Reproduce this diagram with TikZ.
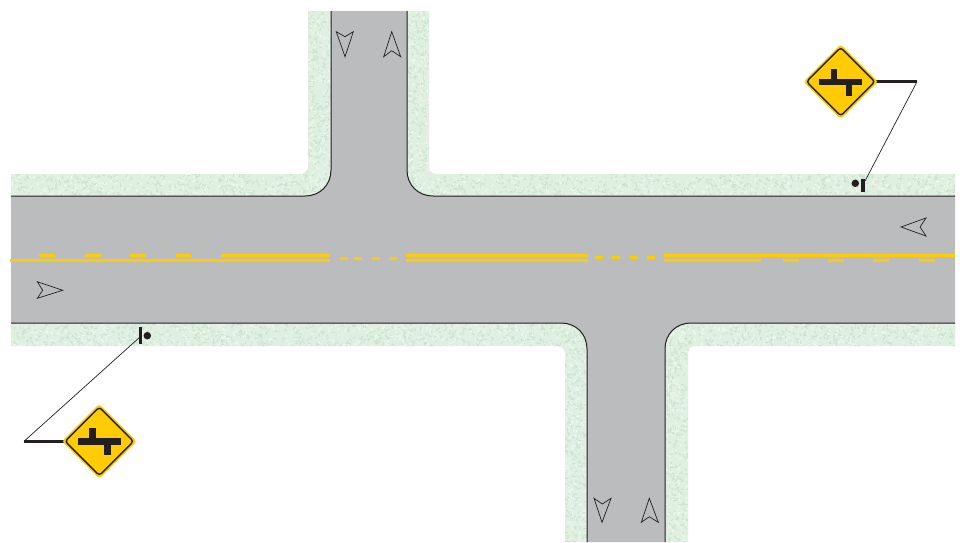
\documentclass[tikz,border=0pt]{standalone}
\usetikzlibrary{shapes.geometric}
\definecolor{roadgray}{HTML}{BBBCBE}
\definecolor{vergegreen}{HTML}{DFF0E0}
\definecolor{specklegreen}{HTML}{CBE3CE}
\definecolor{glintgreen}{HTML}{EFF8EF}
\definecolor{paintyellow}{HTML}{FFCB05}
\definecolor{signblack}{HTML}{231F20}
\tikzset{
  edgeline/.style={draw=signblack, line width=1pt},
  paint/.style={draw=paintyellow, line width=3pt},
  flow/.style={draw=signblack, line width=0.7pt, fill=none, line join=miter},
  signplate/.style={diamond, aspect=1, fill=paintyellow, inner sep=0pt, minimum size=75pt, rounded corners=3pt},
  signring/.style={diamond, aspect=1, draw=signblack, line width=1.4pt, inner sep=0pt, minimum size=69pt, rounded corners=3pt},
  bar/.style={fill=signblack},
  thickarm/.style={draw=signblack, line width=3pt},
  thinarm/.style={draw=signblack, line width=0.7pt},
  post/.style={draw=signblack, line width=3.4pt},
  dot/.style={circle, fill=signblack, inner sep=0pt, minimum size=7.5pt}
}
\begin{document}
\begin{tikzpicture}[x=1pt, y=-1pt]
  \useasboundingbox (0,0) rectangle (960,542);

  % Verges
  \begin{scope}
    \clip (11,174) -- (300,174) .. controls (305,174) and (308,171) .. (308,166) -- (308,11) -- (331,11) -- (331,196) -- (11,196) -- cycle
          (429,11) -- (429,166) .. controls (429,171) and (432,174) .. (437,174) -- (955,174) -- (955,196) -- (407,196) -- (407,11) -- cycle
          (11,323) -- (587,323) -- (587,542) -- (565,542) -- (565,354) .. controls (565,349) and (562,346) .. (557,346) -- (11,346) -- cycle
          (665,323) -- (955,323) -- (955,346) -- (696,346) .. controls (691,346) and (688,349) .. (688,354) -- (688,542) -- (665,542) -- cycle;
    \fill[vergegreen] (0,0) rectangle (960,542);
    % Mottled surface
    \pgfmathsetseed{17}
    \foreach \xa/\wd/\ya/\ht/\num in {11/320/174/22/600, 407/548/174/22/1000, 11/576/323/23/1100, 665/290/323/23/550,
                                      308/23/11/163/330, 407/22/11/163/330, 565/22/346/196/380, 665/23/346/196/380} {
      \foreach \i in {1,...,\num} {
        \pgfmathsetmacro{\px}{\xa+rnd*\wd}
        \pgfmathsetmacro{\py}{\ya+rnd*\ht}
        \pgfmathsetmacro{\pa}{rnd*180}
        \pgfmathparse{rnd<0.55 ? "specklegreen" : "glintgreen"}
        \edef\shade{\pgfmathresult}
        \draw[\shade, line width=0.9pt] (\px,\py) -- ++(\pa:3);
      }
    }
  \end{scope}

  % Pavement
  \fill[roadgray] (11,196) -- (305,196) .. controls (320,196) and (331,185) .. (331,170) -- (331,11) -- (407,11) -- (407,170)
      .. controls (407,185) and (418,196) .. (433,196) -- (955,196) -- (955,323) -- (691,323)
      .. controls (676,323) and (665,334) .. (665,349) -- (665,542) -- (587,542) -- (587,349)
      .. controls (587,334) and (576,323) .. (561,323) -- (11,323) -- cycle;

  % Kerbs
  \draw[edgeline] (11,196) -- (305,196) .. controls (320,196) and (331,185) .. (331,170) -- (331,11);
  \draw[edgeline] (407,11) -- (407,170) .. controls (407,185) and (418,196) .. (433,196) -- (955,196);
  \draw[edgeline] (11,323) -- (561,323) .. controls (576,323) and (587,334) .. (587,349) -- (587,542);
  \draw[edgeline] (665,542) -- (665,349) .. controls (665,334) and (676,323) .. (691,323) -- (955,323);

  % Centre line, double stretches
  \draw[paint] (10,260.3) -- (330,260.3);
  \draw[paint] (221,255.3) -- (330,255.3);
  \draw[paint] (406,255.3) -- (588,255.3);
  \draw[paint] (406,260.3) -- (588,260.3);
  \draw[paint] (664,255.3) -- (955,255.3);
  \draw[paint] (664,260.3) -- (761,260.3);

  % Centre line, broken stretches
  \foreach \xa/\xb in {39/55, 85/101, 130/146, 176/191}
    \draw[paint] (\xa,255.3) -- (\xb,255.3);
  \foreach \xa/\xb in {340/348, 354/362, 372/380, 389/397}
    \draw[paint] (\xa,258.5) -- (\xb,258.5);
  \foreach \xa/\xb in {595/603, 612/620, 630/638, 647/655}
    \draw[paint] (\xa,257.3) -- (\xb,257.3);
  \foreach \xa/\xb in {783/799, 828/844, 873/889, 919/935}
    \draw[paint] (\xa,260.3) -- (\xb,260.3);

  % Direction arrows
  \draw[flow] (336.3,31.7) -- (345,56.7) -- (353.3,31.7) -- (345,36.7) -- cycle;
  \draw[flow] (391.7,31.7) -- (383.7,56.7) -- (391.7,50.7) -- (400.7,56.7) -- cycle;
  \draw[flow] (594,498.3) -- (602,522.3) -- (611,498.3) -- (602.3,504) -- cycle;
  \draw[flow] (649.3,498.3) -- (641.3,522.3) -- (649.3,516.7) -- (658.3,522.3) -- cycle;
  \draw[flow] (37.3,281.7) -- (62.7,290.3) -- (37.3,298.3) -- (42.7,290.3) -- cycle;
  \draw[flow] (901,227) -- (926,218) -- (920,227) -- (926,236) -- cycle;

  % Sign posts on the verge
  \coordinate (postNtop) at (863,179);
  \coordinate (postNbot) at (863,191.5);
  \coordinate (postStop) at (140.3,327.3);
  \coordinate (postSbot) at (140.3,344);
  \coordinate (postNarm) at (865,181);
  \coordinate (postSarm) at (140.3,336.7);
  \coordinate (elbowN) at (917,81.7);
  \coordinate (elbowS) at (24,441.3);
  \draw[post] (postNtop) -- (postNbot);
  \draw[post] (postStop) -- (postSbot);
  \node[dot] (dotN) at (855.3,183.3) {};
  \node[dot] (dotS) at (147.3,335.7) {};

  % Signs, with their arms under the plates
  \coordinate (centreN) at (840.7,81.7);
  \coordinate (centreS) at (99.3,441.3);
  \draw[thickarm] (centreN) -- (elbowN);
  \draw[thinarm] (elbowN) -- (postNarm);
  \draw[thickarm] (centreS) -- (elbowS);
  \draw[thinarm] (elbowS) -- (postSarm);
  \node[signplate] (signN) at (centreN) {};
  \node[signring] (ringN) at (signN) {};
  \node[signplate] (signS) at (centreS) {};
  \node[signring] (ringS) at (signS) {};
  \foreach \s in {signN, signS} {
    \fill[bar] ([shift={(-21.5,-3.2)}]\s.center) rectangle ([shift={(21.5,3.2)}]\s.center);
    \fill[bar] ([shift={(-10,-13)}]\s.center) rectangle ([shift={(-3.6,0)}]\s.center);
    \fill[bar] ([shift={(5,0)}]\s.center) rectangle ([shift={(11.5,14)}]\s.center);
  }
\end{tikzpicture}
\end{document}
